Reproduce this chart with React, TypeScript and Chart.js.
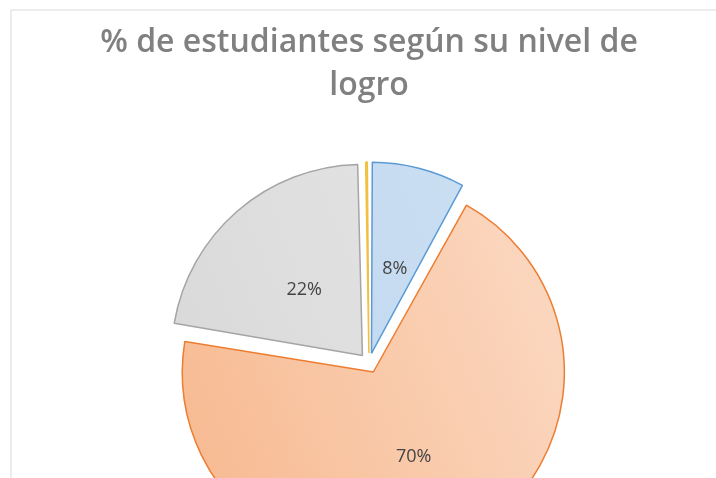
import React, { useEffect, useRef } from "react";
import { Chart, registerables } from "chart.js";

Chart.register(...registerables);

// ---- data ----
const categories = ["Nivel 1", "Nivel 2", "Nivel 3", "Nivel 4"];
const values = [8, 70, 22, 0.4];
const titleLines = ["% de estudiantes según su nivel de", "logro"];

// ---- styles ----
const borderColors = ["#5B9BD5", "#ED7D31", "#A5A5A5", "#F2C040"];
const fillDark = ["#bcd5ee", "#f7ba91", "#d8d8d8", "#f2c94c"];
const fillLight = ["#cde0f3", "#fbd8c1", "#e6e6e6", "#f5d266"];

const W = 716;
const H = 580;

const radiusFixPlugin = {
  id: "radiusFix",
  afterDatasetsUpdate(chart: any) {
    const meta = chart.getDatasetMeta(0);
    const base = meta.controller.outerRadius;
    meta.data.forEach((arc: any) => {
      const off = ((arc.options && arc.options.offset) || 0) / 4;
      const fix = 1 - Math.sin(Math.min(Math.PI, arc.circumference || 0));
      arc.outerRadius = base - off * fix;
    });
  },
};

const labelPlugin = {
  id: "sliceLabels",
  afterDatasetsDraw(chart: any) {
    const ctx = chart.ctx;
    const meta = chart.getDatasetMeta(0);
    const base = meta.controller.outerRadius;
    const total = values.reduce((a, b) => a + b, 0);
    ctx.save();
    ctx.font = "18px 'Open Sans', sans-serif";
    ctx.fillStyle = "#444444";
    ctx.textAlign = "center";
    ctx.textBaseline = "middle";
    meta.data.forEach((arc: any, i: number) => {
      const pct = Math.round((values[i] / total) * 100);
      if (pct < 1) return;
      const mid = (arc.startAngle + arc.endAngle) / 2;
      const off = ((arc.options && arc.options.offset) || 0) / 4;
      const d = base * 0.5 + off * 0.5;
      ctx.fillText(pct + "%", arc.x + Math.cos(mid) * d + 1, arc.y + Math.sin(mid) * d + 3);
    });
    ctx.restore();
  },
};

export default function App() {
  const ref = useRef<HTMLCanvasElement | null>(null);

  useEffect(() => {
    if (!ref.current) return;
    const fill = (c: any) => {
      const i = c.dataIndex ?? 0;
      const chart = c.chart;
      const area = chart.chartArea;
      if (!area) return fillDark[i];
      const cx = (area.left + area.right) / 2;
      const cy = (area.top + area.bottom) / 2;
      const r = 200;
      const g = chart.ctx.createLinearGradient(cx - r, cy + r * 0.4, cx + r, cy - r * 0.4);
      g.addColorStop(0, fillDark[i]);
      g.addColorStop(1, fillLight[i]);
      return g;
    };
    const chart = new Chart(ref.current, {
      type: "pie",
      data: {
        labels: categories,
        datasets: [
          {
            data: values,
            backgroundColor: fill as any,
            borderColor: borderColors,
            borderWidth: 1.5,
            offset: 40,
            hoverOffset: 0,
          },
        ],
      },
      options: {
        responsive: false,
        animation: false,
        devicePixelRatio: 1,
        layout: { padding: { left: 26, right: 4, top: 0, bottom: 5.25 } },
        plugins: {
          legend: { display: false },
          tooltip: { enabled: false },
          title: {
            display: true,
            text: titleLines,
            color: "#808080",
            font: { family: "'Open Sans', sans-serif", size: 32, weight: "600", lineHeight: 43 / 32 },
            padding: { top: 21, bottom: 44.25 },
          },
        },
      },
      plugins: [radiusFixPlugin, labelPlugin],
    });
    return () => chart.destroy();
  }, []);

  return (
    <div
      style={{
        position: "fixed",
        left: 0,
        top: 0,
        width: W,
        height: 478,
        overflow: "hidden",
        background: "#fff",
      }}
    >
      <div
        style={{
          position: "absolute",
          left: 10,
          top: 9,
          width: W + 20,
          height: H + 20,
          border: "2px solid #ececec",
          boxSizing: "border-box",
        }}
      />
      <canvas ref={ref} width={W} height={H} style={{ position: "absolute", left: 0, top: 0 }} />
    </div>
  );
}
